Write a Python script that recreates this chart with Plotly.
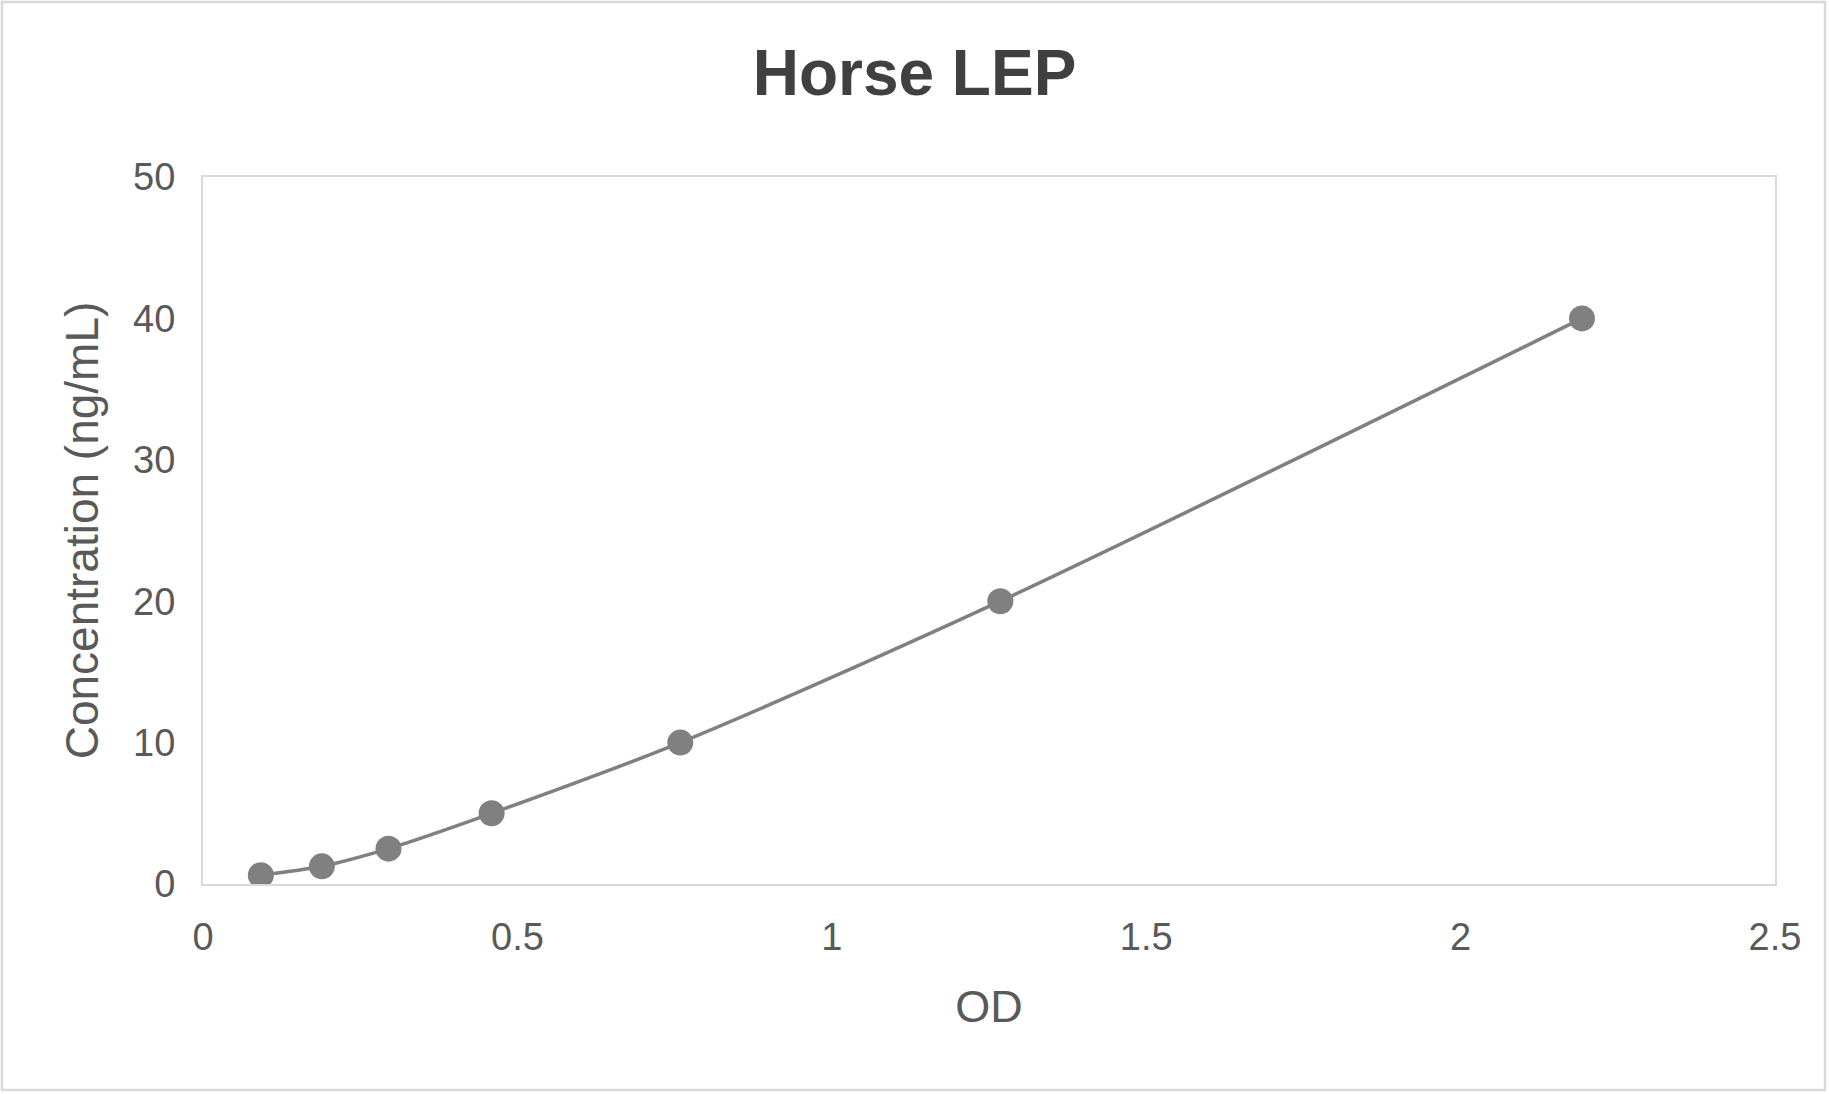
import plotly.graph_objects as go

# Data
od_values = [0.092, 0.189, 0.295, 0.459, 0.759, 1.268, 2.193]
concentration = [0.625, 1.25, 2.5, 5, 10, 20, 40]
x_ticks = [0, 0.5, 1, 1.5, 2, 2.5]
y_ticks = [0, 10, 20, 30, 40, 50]

W, H = 1829, 1094
L, R, T, B = 203, 54, 177, 210

FONT = "Liberation Sans, Arial, sans-serif"
GRAY = "#808080"

fig = go.Figure()
fig.add_trace(go.Scatter(
    x=od_values, y=concentration,
    mode="lines+markers",
    line=dict(color=GRAY, width=3.5, shape="spline", smoothing=0.8),
    marker=dict(color=GRAY, size=26, line=dict(width=0)),
    showlegend=False,
))

pw = W - L - R
ph = H - T - B
# outer chart border (in paper coordinates relative to plot area)
fig.add_shape(
    type="rect", xref="paper", yref="paper",
    x0=(2 - L) / pw, x1=(1825 - L) / pw,
    y0=(H - B - 1090) / ph, y1=(H - B - 2) / ph,
    line=dict(color="#d9d9d9", width=2.5), fillcolor="rgba(0,0,0,0)",
    layer="below",
)

fig.update_layout(
    width=W, height=H,
    margin=dict(l=L, r=R, t=T, b=B, autoexpand=False),
    paper_bgcolor="white", plot_bgcolor="white",
    font=dict(family=FONT, color="#595959"),
    title=dict(
        text="<b>Horse LEP</b>",
        font=dict(family=FONT, size=64, color="#404040"),
        x=0.5, xanchor="center", xref="container",
        y=1 - 73 / H, yanchor="middle", yref="container",
    ),
    xaxis=dict(
        range=[0, 2.5], tickvals=x_ticks,
        showgrid=False, zeroline=False,
        showline=True, mirror=True, linecolor="#d9d9d9", linewidth=2,
        ticks="", ticklabelstandoff=18,
        tickfont=dict(size=38, color="#595959", family=FONT),
        title=dict(text="OD", font=dict(size=45, color="#595959", family=FONT), standoff=34),
        automargin=False,
    ),
    yaxis=dict(
        range=[0, 50], tickvals=y_ticks,
        showgrid=False, zeroline=False,
        showline=True, mirror=True, linecolor="#d9d9d9", linewidth=2,
        ticks="", ticklabelstandoff=18,
        tickfont=dict(size=38, color="#595959", family=FONT),
        title=dict(text="Concentration (ng/mL)", font=dict(size=46, color="#595959", family=FONT), standoff=20),
        automargin=False,
    ),
)

fig.write_html("out.html", config={"displayModeBar": False},
               post_script="document.body.style.margin='0';")
